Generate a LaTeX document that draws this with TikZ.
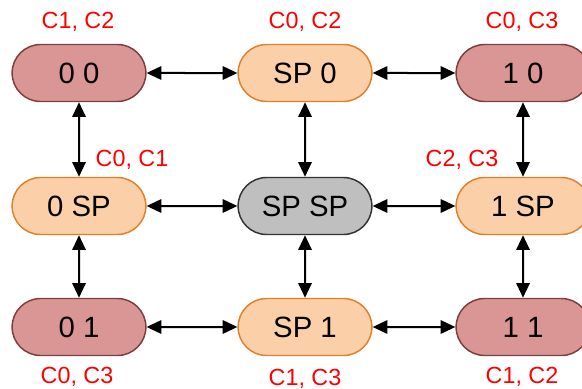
\documentclass[tikz,border=0pt]{standalone}
\usepackage{fontspec}
\setmainfont{Liberation Sans}
\usepackage{xcolor}
\usetikzlibrary{arrows.meta,shapes.misc}
\definecolor{darkfill}{HTML}{D99694}
\definecolor{darkline}{HTML}{7A3F3E}
\definecolor{lightfill}{HTML}{FBCFA7}
\definecolor{lightline}{HTML}{E0802A}
\definecolor{midfill}{HTML}{BFBFBF}
\definecolor{labelred}{HTML}{FF0000}
\tikzset{
  statebox/.style={rounded rectangle,minimum width=107pt,minimum height=42.75pt,line width=1.1pt,font=\fontsize{22}{25}\selectfont},
  pure/.style={statebox,fill=darkfill,draw=darkline},
  mixed/.style={statebox,fill=lightfill,draw=lightline},
  both/.style={statebox,fill=midfill,draw=black!80},
  tag/.style={text=labelred,font=\fontsize{17.5}{20}\selectfont},
  link/.style={{Triangle[length=11pt,width=10pt]}-{Triangle[length=11pt,width=10pt]},line width=1.5pt}
}
\begin{document}
\begin{tikzpicture}[x=0.75pt,y=-0.75pt]
  \useasboundingbox (0,0) rectangle (582,389);
  % states
  \node[pure]  (s00) at (79,73)   {0 0};
  \node[mixed] (sp0) at (305,73)  {SP 0};
  \node[pure]  (s10) at (523,73)  {1 0};
  \node[mixed] (s0p) at (79,206)  {0 SP};
  \node[both]  (spp) at (305,206) {SP SP};
  \node[mixed] (s1p) at (523,206) {1 SP};
  \node[pure]  (s01) at (79,327)  {0 1};
  \node[mixed] (sp1) at (305,327) {SP 1};
  \node[pure]  (s11) at (523,327) {1 1};
  % labels
  \node[tag] (t00) at (78,22)   {C1, C2};
  \node[tag] (tp0) at (305,22)  {C0, C2};
  \node[tag] (t10) at (522,22)  {C0, C3};
  \node[tag] (t0p) at (132,160) {C0, C1};
  \node[tag] (t1p) at (462,160) {C2, C3};
  \node[tag] (t01) at (77,377)  {C0, C3};
  \node[tag] (tp1) at (305,379) {C1, C3};
  \node[tag] (t11) at (522,377) {C1, C2};
  % transitions
  \draw[link] (s00) -- (sp0);
  \draw[link] (sp0) -- (s10);
  \draw[link] (s0p) -- (spp);
  \draw[link] (spp) -- (s1p);
  \draw[link] (s01) -- (sp1);
  \draw[link] (sp1) -- (s11);
  \draw[link] (s00) -- (s0p);
  \draw[link] (s0p) -- (s01);
  \draw[link] (sp0) -- (spp);
  \draw[link] (spp) -- (sp1);
  \draw[link] (s10) -- (s1p);
  \draw[link] (s1p) -- (s11);
\end{tikzpicture}
\end{document}
